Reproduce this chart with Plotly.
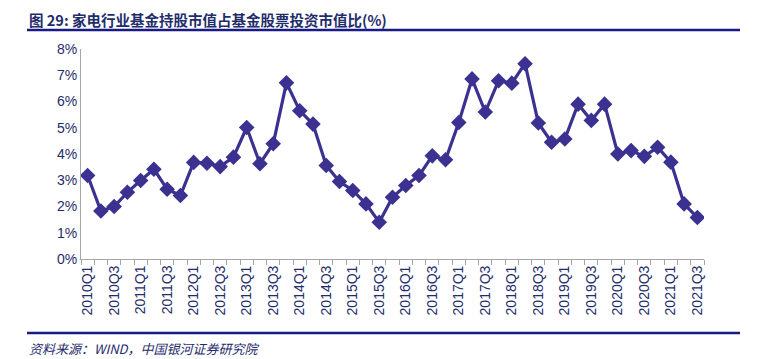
import plotly.graph_objects as go

quarters = [f"{y}Q{q}" for y in range(2010, 2022) for q in range(1, 5)][:47]
values = [3.18, 1.83, 2.00, 2.54, 2.99, 3.42, 2.66, 2.42, 3.68, 3.65, 3.52, 3.88,
          5.01, 3.63, 4.39, 6.71, 5.65, 5.14, 3.56, 2.95, 2.61, 2.10, 1.40, 2.35,
          2.80, 3.18, 3.93, 3.78, 5.20, 6.86, 5.60, 6.79, 6.70, 7.44, 5.18, 4.45,
          4.57, 5.90, 5.28, 5.90, 4.00, 4.13, 3.91, 4.26, 3.69, 2.10, 1.58]
tick_text = [q if i % 2 == 0 else "" for i, q in enumerate(quarters)]
y_ticks = [0, 1, 2, 3, 4, 5, 6, 7, 8]
y_tick_text = [f"{v}%" for v in y_ticks]

title_text = "图 29: 家电行业基金持股市值占基金股票投资市值比(%)"
source_text = "资料来源：WIND，中国银河证券研究院"

navy = "#1F2D6B"
line_col = "#3B3191"

fig = go.Figure()
fig.add_trace(go.Scatter(
    x=quarters, y=values, mode="lines+markers",
    line=dict(color=line_col, width=3.2),
    marker=dict(symbol="diamond", size=12, color=line_col),
    showlegend=False, hoverinfo="x+y",
))

# the page body adds an 8px offset, so the figure is 8px smaller than the window
fig.update_layout(
    width=761, height=351,
    margin=dict(l=73, r=65, t=41, b=100),
    paper_bgcolor="white", plot_bgcolor="white",
    font=dict(family="Liberation Sans", color=navy),
    xaxis=dict(
        type="category", tickmode="array", tickvals=quarters, ticktext=tick_text,
        tickson="boundaries", ticks="outside", ticklen=5, tickcolor="#A6A6A6",
        showline=True, linecolor="#A6A6A6", linewidth=1, showgrid=False,
        tickangle=-90, tickfont=dict(family="Liberation Sans", size=14, color=navy),
        range=[-0.5, 46.5], zeroline=False,
    ),
    yaxis=dict(
        range=[0, 8], tickmode="array", tickvals=y_ticks, ticktext=y_tick_text,
        showline=True, linecolor="#A6A6A6", linewidth=1, showgrid=False,
        ticks="", tickfont=dict(family="Liberation Sans", size=14, color=navy),
        zeroline=False,
    ),
    shapes=[
        dict(type="line", xref="paper", yref="paper",
             x0=(27 - 81) / 623, x1=(740 - 81) / 623,
             y0=(259 - 30) / 210, y1=(259 - 30) / 210,
             line=dict(color="#1A1A86", width=2.5)),
        dict(type="line", xref="paper", yref="paper",
             x0=(27 - 81) / 623, x1=(740 - 81) / 623,
             y0=(259 - 333) / 210, y1=(259 - 333) / 210,
             line=dict(color="#1A1A86", width=2.5)),
    ],
    annotations=[
        dict(text="<b>" + title_text + "</b>", xref="paper", yref="paper",
             x=(28 - 81) / 623, y=(259 - 8) / 210, xanchor="left", yanchor="top",
             borderpad=0,
             showarrow=False, font=dict(family="Noto Sans CJK SC", size=14.5, color=navy)),
        dict(text="<i>" + source_text + "</i>", xref="paper", yref="paper",
             x=(28 - 81) / 623, y=(259 - 348) / 210, xanchor="left", yanchor="middle",
             borderpad=0,
             showarrow=False, font=dict(family="Noto Sans CJK SC", size=13, color=navy)),
    ],
)

fig.write_html("out.html")
